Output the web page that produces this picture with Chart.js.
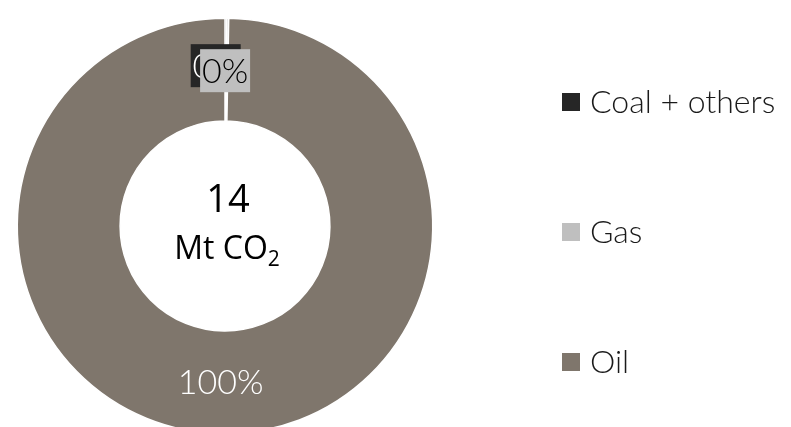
<!DOCTYPE html>
<html>
<head>
<meta charset="utf-8">
<script src="https://cdn.jsdelivr.net/npm/chart.js@4.4.0/dist/chart.umd.min.js"></script>
<style>
    html, body { margin: 0; padding: 0; background: #fff; overflow: hidden; }
    #wrap { position: relative; width: 791px; height: 452px; }
</style>
</head>
<body>
<div id="wrap"><canvas id="donut"></canvas></div>
<script>
// values (Mt CO2)
var categories = ['Coal + others', 'Gas', 'Oil'];
var emissions = [0.02, 0.02, 13.96];
var sliceColors = ['#262626', '#bfbfbf', '#7f766c'];
var centerValue = '14';
var centerUnit = 'Mt CO';

var lightFont = '300 34px Lato, "Open Sans", sans-serif';

// percent labels, centre text and legend
var donutExtras = {
    id: 'donutExtras',
    afterDatasetsDraw: function (chart, args, opts) {
        var ctx = chart.ctx;
        var meta = chart.getDatasetMeta(0);
        var total = emissions.reduce(function (a, b) { return a + b; }, 0);
        ctx.save();
        ctx.textAlign = 'center';
        ctx.textBaseline = 'middle';

        meta.data.forEach(function (arc, i) {
            var p = arc.getCenterPoint();
            var n = opts.nudge[i];
            var x = p.x + n[0], y = p.y + n[1];
            var txt = Math.round(emissions[i] / total * 100) + '%';
            ctx.font = lightFont;
            if (opts.boxed[i]) {
                ctx.fillStyle = sliceColors[i];
                ctx.fillRect(x - 25, y - 21.5, 50, 43);
            }
            ctx.fillStyle = opts.textColors[i];
            ctx.fillText(txt, x, y + 1);
        });

        // centre
        var cx = (chart.chartArea.left + chart.chartArea.right) / 2;
        var cy = (chart.chartArea.top + chart.chartArea.bottom) / 2;
        ctx.fillStyle = '#000';
        ctx.font = '400 38px "Open Sans", sans-serif';
        ctx.fillText(centerValue, cx + 3, cy - 25);
        ctx.font = '400 32px "Open Sans", sans-serif';
        var w1 = ctx.measureText(centerUnit).width;
        ctx.font = '400 21px "Open Sans", sans-serif';
        var w2 = ctx.measureText('2').width;
        var sx = cx + 2 - (w1 + w2) / 2;
        ctx.textAlign = 'left';
        ctx.font = '400 32px "Open Sans", sans-serif';
        ctx.fillText(centerUnit, sx, cy + 24);
        ctx.font = '400 21px "Open Sans", sans-serif';
        ctx.fillText('2', sx + w1, cy + 34);

        // legend
        ctx.font = '300 32px Lato, "Open Sans", sans-serif';
        categories.forEach(function (name, i) {
            var ly = 102 + i * 130;
            ctx.fillStyle = sliceColors[i];
            ctx.fillRect(562, ly - 9, 18, 18);
            ctx.fillStyle = '#1a1a1a';
            ctx.fillText(name, 590, ly + 1);
        });
        ctx.restore();
    }
};

new Chart(document.getElementById('donut'), {
    type: 'doughnut',
    data: {
        labels: categories,
        datasets: [{
            data: emissions,
            backgroundColor: sliceColors,
            borderColor: '#ffffff',
            borderWidth: 1.5
        }]
    },
    options: {
        responsive: true,
        maintainAspectRatio: false,
        animation: false,
        cutout: '50.5%',
        layout: { padding: { left: 16.5, top: 17.5, right: 357.5, bottom: 17.5 } },
        plugins: {
            legend: { display: false },
            tooltip: { enabled: false },
            donutExtras: {
                nudge: [[-10, -4], [-2, 1], [-3, 0]],
                boxed: [true, true, false],
                textColors: ['#ffffff', '#000000', '#ffffff']
            }
        }
    },
    plugins: [donutExtras]
});
</script>
</body>
</html>
